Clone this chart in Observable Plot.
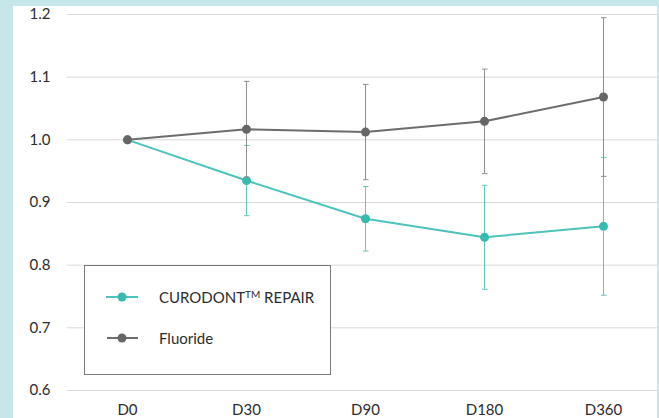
<!DOCTYPE html>
<html>
<head>
<meta charset="utf-8">
<script src="https://cdn.jsdelivr.net/npm/d3@7"></script>
<script src="https://cdn.jsdelivr.net/npm/@observablehq/plot@0.6"></script>
<style>
  html, body { margin: 0; padding: 0; }
  body { width: 659px; height: 418px; overflow: hidden; background: #c7e6ea; font-family: Lato, sans-serif; }
  #wrap { position: absolute; left: 13px; top: 6px; width: 644px; height: 412px; background: #fff; }
  #legend { position: absolute; left: 71px; top: 259px; width: 245px; height: 108px; border: 1px solid #7a7a7a; background: #fff; font-size: 15px; color: #2b2b2b; }
  .item { position: absolute; left: 20px; height: 20px; display: flex; align-items: center; }
  .item span { margin-left: 20px; }
  sup { font-size: 10px; vertical-align: 5px; }
</style>
</head>
<body>
<div id="wrap"></div>
<script>
const days = ["D0", "D30", "D90", "D180", "D360"];
const curodont = [1.0, 0.935, 0.874, 0.8445, 0.862];
const curodontSD = [0, 0.056, 0.0515, 0.083, 0.110];
const fluoride = [1.0, 1.0167, 1.0124, 1.0295, 1.0683];
const fluorideSD = [0, 0.0766, 0.076, 0.0834, 0.1266];
const yTicks = [0.6, 0.7, 0.8, 0.9, 1.0, 1.1, 1.2];
const seriesNames = ["CURODONT™ REPAIR", "Fluoride"];

const tealLine = "#4cc3bb", tealDot = "#38bbaf", tealBar = "#66c6bf";
const grayLine = "#6d6d6d", grayDot = "#666666", grayBar = "#8e8e8e";

const cRows = days.map((d, i) => ({day: d, v: curodont[i], sd: curodontSD[i]}));
const fRows = days.map((d, i) => ({day: d, v: fluoride[i], sd: fluorideSD[i]}));
const cErr = cRows.filter(r => r.sd > 0);
const fErr = fRows.filter(r => r.sd > 0);

const chart = Plot.plot({
  width: 644,
  height: 412,
  marginLeft: 54,
  marginRight: 0,
  marginTop: 8,
  marginBottom: 28,
  style: {fontFamily: "Lato, sans-serif", fontSize: "15px", color: "#2b2b2b", background: "transparent", overflow: "visible"},
  x: {type: "point", domain: days, padding: 0.477, align: 0.53, label: null},
  y: {domain: [0.6, 1.2], label: null},
  marks: [
    Plot.gridY(yTicks, {stroke: "#d9d9d9", strokeOpacity: 1}),
    Plot.axisY(yTicks, {tickSize: 0, tickPadding: 17, tickFormat: d3.format(".1f"), label: null}),
    Plot.axisX({tickSize: 0, tickPadding: 14, label: null}),
    Plot.link(cErr, {x1: "day", x2: "day", y1: d => d.v - d.sd, y2: d => d.v + d.sd, stroke: tealBar, strokeWidth: 1, markerStart: "tick", markerEnd: "tick"}),
    Plot.line(cRows, {x: "day", y: "v", stroke: tealLine, strokeWidth: 2}),
    Plot.dot(cRows, {x: "day", y: "v", r: 4.5, fill: tealDot}),
    Plot.link(fErr, {x1: "day", x2: "day", y1: d => d.v - d.sd, y2: d => d.v + d.sd, stroke: grayBar, strokeWidth: 1, markerStart: "tick", markerEnd: "tick"}),
    Plot.line(fRows, {x: "day", y: "v", stroke: grayLine, strokeWidth: 2}),
    Plot.dot(fRows, {x: "day", y: "v", r: 4.5, fill: grayDot})
  ]
});
document.getElementById("wrap").appendChild(chart);

const legend = document.createElement("div");
legend.id = "legend";
legend.innerHTML = `
  <div class="item" style="top:21px">
    <svg width="34" height="20"><line x1="1" x2="33" y1="10" y2="10" stroke="${tealLine}" stroke-width="2"/><circle cx="17" cy="10" r="4.5" fill="${tealDot}"/></svg>
    <span>CURODONT<sup>TM</sup> REPAIR</span>
  </div>
  <div class="item" style="top:62px">
    <svg width="34" height="20"><line x1="2" x2="33" y1="10" y2="10" stroke="${grayLine}" stroke-width="2"/><circle cx="17" cy="10" r="4.5" fill="${grayDot}"/></svg>
    <span>Fluoride</span>
  </div>`;
document.getElementById("wrap").appendChild(legend);
</script>
</body>
</html>
